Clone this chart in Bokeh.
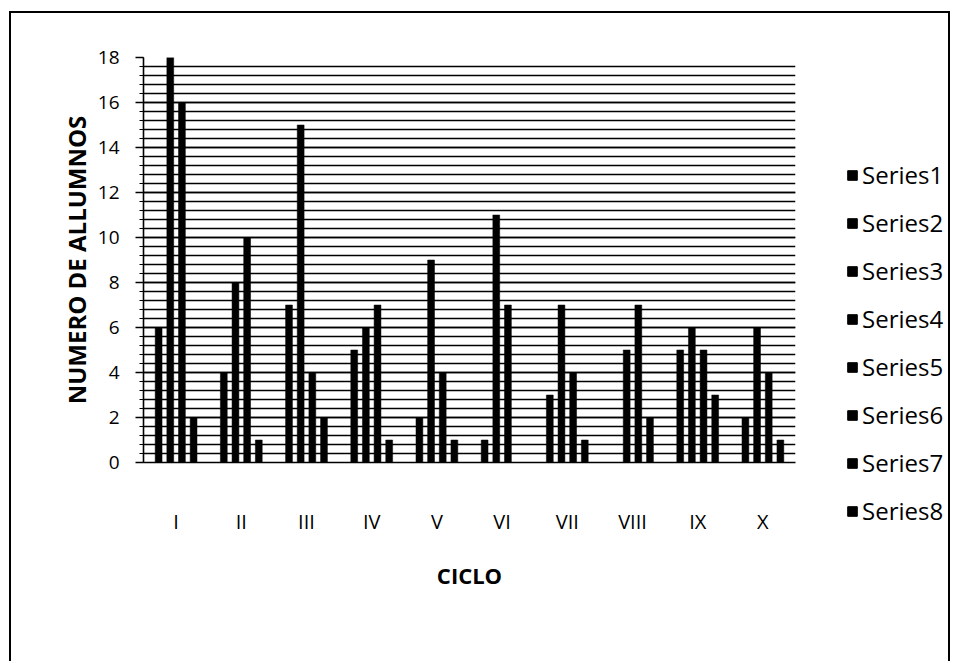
from bokeh.plotting import figure
from bokeh.layouts import row
from bokeh.models import (ColumnDataSource, Legend, LegendItem, SingleIntervalTicker, Range1d)
from bokeh.transform import dodge
from bokeh.embed import file_html
from bokeh.resources import INLINE

# ---- data ----
ciclos = ["I", "II", "III", "IV", "V", "VI", "VII", "VIII", "IX", "X"]
series_names = ["Series1", "Series2", "Series3", "Series4",
                "Series5", "Series6", "Series7", "Series8"]
series1 = [6, 4, 7, 5, 2, 1, 3, 0, 5, 2]
series2 = [0, 0, 0, 0, 0, 0, 0, 0, 0, 0]
series3 = [18, 8, 15, 6, 9, 11, 7, 5, 6, 6]
series4 = [0, 0, 0, 0, 0, 0, 0, 0, 0, 0]
series5 = [16, 10, 4, 7, 4, 7, 4, 7, 5, 4]
series6 = [0, 0, 0, 0, 0, 0, 0, 0, 0, 0]
series7 = [2, 1, 2, 1, 1, 0, 1, 2, 3, 1]
series8 = [0, 0, 0, 0, 0, 0, 0, 0, 0, 0]
y_min, y_max, y_step = 0, 18, 2
x_title = "CICLO"
y_title = "NUMERO DE ALLUMNOS"

all_series = [series1, series2, series3, series4, series5, series6, series7, series8]

data = {"ciclo": ciclos}
for name, vals in zip(series_names, all_series):
    data[name] = vals
source = ColumnDataSource(data)

FONT = "Open Sans"
H = 648

# ---------------- main chart ----------------
p = figure(x_range=ciclos, y_range=Range1d(y_min, y_max),
           width=819, height=H,
           output_backend="svg", toolbar_location=None,
           min_border_left=132, min_border_right=35,
           min_border_top=44, min_border_bottom=199)
p.frame_align = False
p.outline_line_color = None
p.background_fill_color = "white"
p.border_fill_color = "white"

slot = 0.0894
bar_w = 0.105
for k, name in enumerate(series_names):
    off = (k - 3) * slot
    p.vbar(x=dodge("ciclo", off, range=p.x_range), top=name, width=bar_w,
           source=source, fill_color="black", line_color="black", line_width=0.5)

ticker = SingleIntervalTicker(interval=y_step, num_minor_ticks=5)
p.yaxis.ticker = ticker
p.ygrid.ticker = ticker
p.ygrid.grid_line_color = "black"
p.ygrid.grid_line_width = 1.6
p.ygrid.minor_grid_line_color = "black"
p.ygrid.minor_grid_line_width = 1.6
p.xgrid.grid_line_color = None

p.yaxis.axis_line_color = "black"
p.yaxis.axis_line_width = 1.6
p.yaxis.major_tick_line_color = "black"
p.yaxis.major_tick_line_width = 1.5
p.yaxis.major_tick_out = 8
p.yaxis.major_tick_in = 0
p.yaxis.minor_tick_line_color = "black"
p.yaxis.minor_tick_line_width = 1.2
p.yaxis.minor_tick_out = 4
p.yaxis.minor_tick_in = 0
p.yaxis.major_label_text_font = FONT
p.yaxis.major_label_text_font_size = "19px"
p.yaxis.major_label_text_color = "black"
p.yaxis.major_label_standoff = 16
p.yaxis.axis_label = y_title
p.yaxis.axis_label_text_font = FONT
p.yaxis.axis_label_text_font_style = "bold"
p.yaxis.axis_label_text_font_size = "24px"
p.yaxis.axis_label_text_color = "black"
p.yaxis.axis_label_standoff = 2

p.xaxis.axis_line_color = "black"
p.xaxis.axis_line_width = 1.6
p.xaxis.major_tick_line_color = None
p.xaxis.minor_tick_line_color = None
p.xaxis.major_label_text_font = FONT
p.xaxis.major_label_text_font_size = "20px"
p.xaxis.major_label_text_color = "black"
p.xaxis.major_label_standoff = 39
p.xaxis.axis_label = x_title
p.xaxis.axis_label_text_font = FONT
p.xaxis.axis_label_text_font_style = "bold"
p.xaxis.axis_label_text_font_size = "22px"
p.xaxis.axis_label_text_color = "black"
p.xaxis.axis_label_standoff = 22

# ---------------- legend panel ----------------
lg = figure(width=118, height=H, output_backend="svg", toolbar_location=None,
            x_range=Range1d(0, 1), y_range=Range1d(0, 1),
            x_axis_location=None, y_axis_location=None,
            min_border_left=0, min_border_right=0, min_border_top=0, min_border_bottom=0)
lg.frame_align = False
lg.outline_line_color = None
lg.grid.visible = False
lg.background_fill_color = "white"
lg.border_fill_color = "white"

# legend swatches only: one placeholder bar per series, kept outside the visible range
swatch = ColumnDataSource({"x": [5], "top": [6], "bottom": [5]})
items = []
for name in series_names:
    r = lg.vbar(x="x", top="top", bottom="bottom", width=0.1, source=swatch,
                fill_color="black", line_color="black")
    items.append(LegendItem(label=name, renderers=[r]))

legend = Legend(items=items, location=(16, 134), orientation="vertical",
                padding=0, margin=0, spacing=15,
                label_height=22, glyph_height=12, glyph_width=12,
                label_standoff=4,
                label_text_font=FONT, label_text_font_size="24px",
                label_text_color="black",
                border_line_color=None, background_fill_alpha=0)
lg.add_layout(legend, "center")

layout = row(p, lg, styles={"border-left": "2px solid black",
                            "border-top": "2px solid black",
                            "border-right": "2px solid black",
                            "margin-left": "9px",
                            "margin-top": "11px"})

open("out.html", "w").write(file_html(layout, INLINE))
